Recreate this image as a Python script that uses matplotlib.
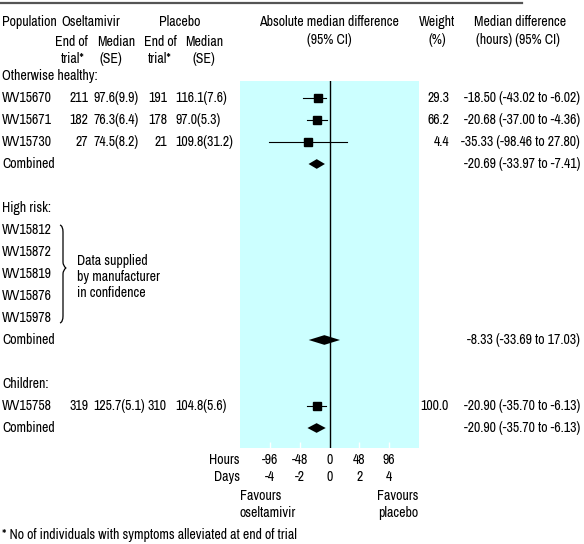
import matplotlib.pyplot as plt
from matplotlib.path import Path
from matplotlib.patches import PathPatch
from matplotlib.lines import Line2D
import matplotlib.transforms as mtransforms

plt.rcParams['font.family'] = ['Archivo Narrow', 'DejaVu Sans']
plt.rcParams['font.size'] = 10

W, H = 584, 544

# otherwise healthy trials
healthy_ids = ['WV15670', 'WV15671', 'WV15730']
healthy_osel_n = [211, 182, 27]
healthy_osel_med = [97.6, 76.3, 74.5]
healthy_osel_se = [9.9, 6.4, 8.2]
healthy_plac_n = [191, 178, 21]
healthy_plac_med = [116.1, 97.0, 109.8]
healthy_plac_se = [7.6, 5.3, 31.2]
healthy_weight = [29.3, 66.2, 4.4]
healthy_diff = [-18.50, -20.68, -35.33]
healthy_lo = [-43.02, -37.00, -98.46]
healthy_hi = [-6.02, -4.36, 27.80]

# high risk trials (no data published)
highrisk_ids = ['WV15812', 'WV15872', 'WV15819', 'WV15876', 'WV15978']

# children
child_ids = ['WV15758']
child_osel_n = [319]
child_osel_med = [125.7]
child_osel_se = [5.1]
child_plac_n = [310]
child_plac_med = [104.8]
child_plac_se = [5.6]
child_weight = [100.0]
child_diff = [-20.90]
child_lo = [-35.70]
child_hi = [-6.13]

# pooled estimates: healthy, high risk, children
comb_diff = [-20.69, -8.33, -20.90]
comb_lo = [-33.97, -33.69, -35.70]
comb_hi = [-7.41, 17.03, -6.13]

hour_ticks = [-96, -48, 0, 48, 96]
day_ticks = [-4, -2, 0, 2, 4]


def row_y(i):
    # pixel y (from top) of a table row
    return 98 + 22 * i


fig = plt.figure(figsize=(W / 100, H / 100), dpi=100)


def txt(x, y, s, ha='left', **kw):
    fig.text(x / W, 1 - y / H, s, ha=ha, va='center', **kw)


# forest panel
left, right, top, bottom = 240, 419, 81, 448
ax = fig.add_axes([left / W, 1 - bottom / H, (right - left) / W, (bottom - top) / H])
ax.set_facecolor('#ccffff')
for s in ax.spines.values():
    s.set_visible(False)
ax.set_xlim(-145, 145)
ax.set_ylim((bottom - 98) / 22, (top - 98) / 22)
ax.set_yticks([])
ax.set_xticks([t for t in hour_ticks if t != 0])
ax.set_xticklabels([])
ax.tick_params(axis='x', direction='in', color='white', length=4, width=1)
ax.axvline(0, color='black', lw=1)

# header
fig.add_artist(Line2D([0, 522 / W], [1 - 2.5 / H, 1 - 2.5 / H], color='#555555', lw=1.6))
txt(2, 22, 'Population')
txt(61, 22, 'Oseltamivir')
txt(180, 22, 'Placebo', ha='center')
txt(71, 42, 'End of', ha='center')
txt(73, 59, 'trial*', ha='center')
txt(116, 42, 'Median', ha='center')
txt(111, 59, '(SE)', ha='center')
txt(160, 42, 'End of', ha='center')
txt(160, 59, 'trial*', ha='center')
txt(204, 42, 'Median', ha='center')
txt(204, 59, '(SE)', ha='center')
txt(329, 22, 'Absolute median difference', ha='center')
txt(329, 40, '(95% CI)', ha='center')
txt(437, 22, 'Weight', ha='center')
txt(437, 40, '(%)', ha='center')
txt(520, 22, 'Median difference', ha='center')
txt(518, 40, '(hours) (95% CI)', ha='center')


def study_rows(start, ids, on, om, ose, pn, pm, pse, wt, d, lo, hi):
    for k in range(len(ids)):
        y = row_y(start + k)
        txt(2, y, ids[k])
        txt(88, y, str(on[k]), ha='right')
        txt(93, y, f'{om[k]:.1f}({ose[k]:.1f})')
        txt(167, y, str(pn[k]), ha='right')
        txt(175, y, f'{pm[k]:.1f}({pse[k]:.1f})')
        txt(449, y, f'{wt[k]:.1f}', ha='right')
        txt(580, y, f'{d[k]:.2f} ({lo[k]:.2f} to {hi[k]:.2f})', ha='right')
        ax.plot([lo[k], hi[k]], [start + k, start + k], color='black', lw=0.8)
        ax.plot(d[k], start + k, 's', color='black', ms=5.5)


def combined_row(i, j):
    y = row_y(i)
    txt(2, y, 'Combined')
    txt(580, y, f'{comb_diff[j]:.2f} ({comb_lo[j]:.2f} to {comb_hi[j]:.2f})', ha='right')
    h = 0.22
    ax.fill([comb_lo[j], comb_diff[j], comb_hi[j], comb_diff[j]],
            [i, i - h, i, i + h], color='black', lw=0)


txt(2, row_y(-1), 'Otherwise healthy:')
study_rows(0, healthy_ids, healthy_osel_n, healthy_osel_med, healthy_osel_se,
           healthy_plac_n, healthy_plac_med, healthy_plac_se,
           healthy_weight, healthy_diff, healthy_lo, healthy_hi)
combined_row(3, 0)

txt(2, row_y(5), 'High risk:')
for k, name in enumerate(highrisk_ids):
    txt(2, row_y(6 + k), name)
combined_row(11, 1)

# brace + note
verts = [(60, 225), (63, 226), (63, 232), (63, 262), (63, 266), (66, 268),
         (63, 270), (63, 274), (63, 316), (63, 322), (60, 323)]
codes = [Path.MOVETO, Path.CURVE3, Path.CURVE3, Path.LINETO, Path.CURVE3, Path.CURVE3,
         Path.CURVE3, Path.CURVE3, Path.LINETO, Path.CURVE3, Path.CURVE3]
pix = mtransforms.Affine2D().scale(1 / W, -1 / H).translate(0, 1) + fig.transFigure
fig.add_artist(PathPatch(Path(verts, codes), fill=False, lw=0.9, color='black', transform=pix))
txt(77, 261, 'Data supplied')
txt(77, 277, 'by manufacturer')
txt(77, 293, 'in confidence')

txt(2, row_y(13), 'Children:')
study_rows(14, child_ids, child_osel_n, child_osel_med, child_osel_se,
           child_plac_n, child_plac_med, child_plac_se,
           child_weight, child_diff, child_lo, child_hi)
combined_row(15, 2)

# axis labels under the panel
xt = mtransforms.blended_transform_factory(ax.transData, fig.transFigure)
txt(240, 460, 'Hours', ha='right')
txt(240, 477, 'Days', ha='right')
for hv, dv in zip(hour_ticks, day_ticks):
    fig.text(hv, 1 - 460 / H, str(hv), ha='center', va='center', transform=xt)
    fig.text(hv, 1 - 477 / H, str(dv), ha='center', va='center', transform=xt)
txt(240, 496, 'Favours')
txt(240, 513, 'oseltamivir')
txt(418, 496, 'Favours', ha='right')
txt(418, 513, 'placebo', ha='right')

txt(2, 535, '* No of individuals with symptoms alleviated at end of trial')

fig.savefig('out.png', dpi=100)
